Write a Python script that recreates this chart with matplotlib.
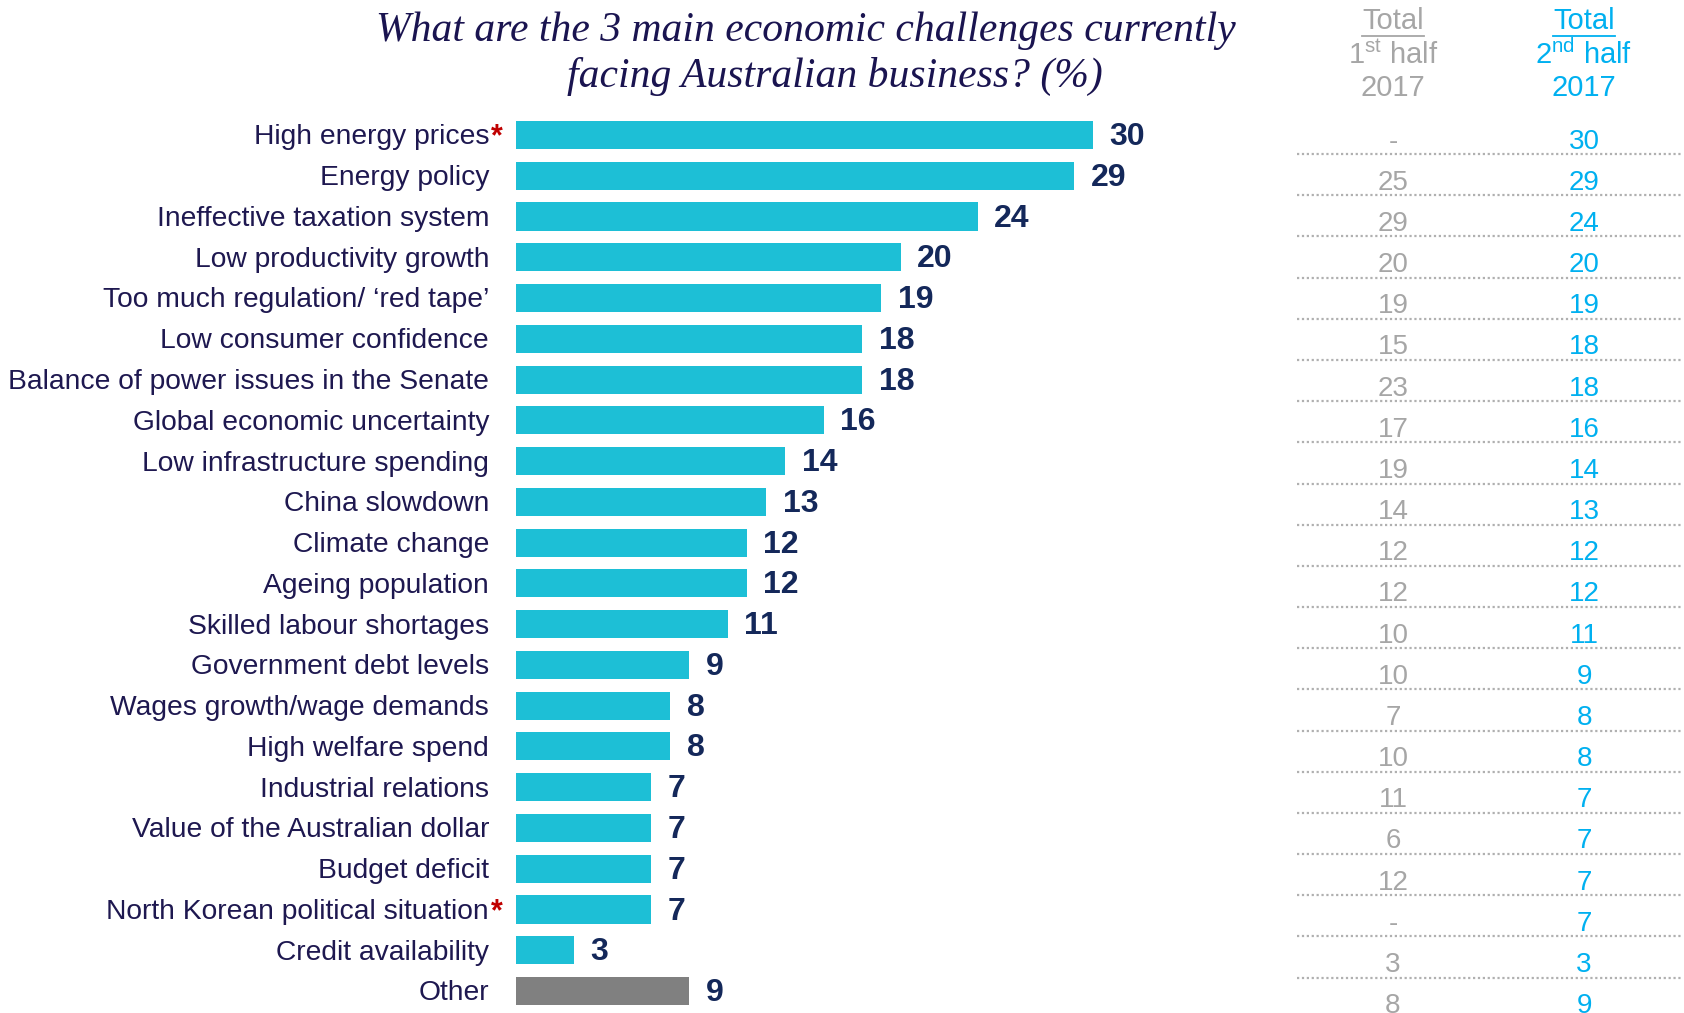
import matplotlib
matplotlib.use("Agg")
import matplotlib.pyplot as plt
import matplotlib.transforms as mtransforms
from matplotlib.lines import Line2D

plt.rcParams['font.family'] = ['Liberation Sans', 'DejaVu Sans']
plt.rcParams['mathtext.fontset'] = 'custom'
plt.rcParams['mathtext.rm'] = 'Liberation Sans'

# survey data
categories = [
    "High energy prices", "Energy policy", "Ineffective taxation system",
    "Low productivity growth", "Too much regulation/ \u2018red tape\u2019",
    "Low consumer confidence", "Balance of power issues in the Senate",
    "Global economic uncertainty", "Low infrastructure spending",
    "China slowdown", "Climate change", "Ageing population",
    "Skilled labour shortages", "Government debt levels",
    "Wages growth/wage demands", "High welfare spend",
    "Industrial relations", "Value of the Australian dollar",
    "Budget deficit", "North Korean political situation",
    "Credit availability", "Other",
]
values_h2 = [30, 29, 24, 20, 19, 18, 18, 16, 14, 13, 12, 12, 11, 9, 8, 8, 7, 7, 7, 7, 3, 9]
values_h1 = ["-", 25, 29, 20, 19, 15, 23, 17, 19, 14, 12, 12, 10, 10, 7, 10, 11, 6, 12, "-", 3, 8]
new_items = ["High energy prices", "North Korean political situation"]

W, H = 1684, 1013
fig = plt.figure(figsize=(W / 100, H / 100), dpi=100)

NAVY = "#1e1850"
VAL = "#14285a"
CYAN = "#1dbfd6"
GREY_BAR = "#808080"
GREY_TXT = "#a6a6a6"
BLUE_TXT = "#00b0f0"

# bar axes: left edge at the bar origin, rows ~40.8 px apart
ax_left, ax_top = 516, 110
ax = fig.add_axes([ax_left / W, 0, (W - ax_left) / W, (H - ax_top) / H])
ppu = 577 / 30
ax.set_xlim(0, (W - ax_left) / ppu)
row = 40.76
ax.set_ylim(21 + (H - 991) / row, -(135 - ax_top) / row)
ax.axis("off")

ypos = list(range(len(categories)))
colors = [CYAN] * (len(categories) - 1) + [GREY_BAR]
ax.barh(ypos, values_h2, height=0.69, color=colors)

for y, v in zip(ypos, values_h2):
    ax.annotate(str(v), (v, y + 0.05), xytext=(12, 0), textcoords="offset points",
                ha="left", va="center", fontsize=23, fontweight="bold", color=VAL)

tr = mtransforms.blended_transform_factory(fig.transFigure, ax.transData)

for y, c in zip(ypos, categories):
    ax.text(489 / W, y + 0.06, c, transform=tr, ha="right", va="center",
            fontsize=20.3, color=NAVY)
    if c in new_items:
        ax.text(491 / W, y + 0.06, "*", transform=tr, ha="left", va="center",
                fontsize=22, fontweight="bold", color="#c00000")

# comparison table on the right
col1, col2 = 1393 / W, 1584 / W
for y, a, b in zip(ypos, values_h1, values_h2):
    ty = y * 1.01 + 0.16
    ax.text(col1, ty, str(a), transform=tr, ha="center", va="center",
            fontsize=20, color=GREY_TXT)
    ax.text(col2, ty, str(b), transform=tr, ha="center", va="center",
            fontsize=20, color=BLUE_TXT)
    if y < len(ypos) - 1:
        ly = y * 1.01 + 0.47
        ax.add_line(Line2D([1297 / W, 1681 / W], [ly, ly], transform=tr,
                           color="#b0b0b0", lw=1.6, ls=(0, (1, 1.2)),
                           clip_on=False))

# table headers
for cx, col, sup, num in [(col1, GREY_TXT, "st", "1"), (col2, BLUE_TXT, "nd", "2")]:
    fig.text(cx, 1 - 21 / H, "Total", ha="center", va="center", fontsize=21, color=col)
    fig.add_artist(Line2D([cx - 31 / W, cx + 31 / W], [1 - 36 / H, 1 - 36 / H],
                          transform=fig.transFigure, color=col, lw=1.3))
    fig.text(cx, 1 - 55 / H, num + r"$^{\mathrm{" + sup + "}}$ half", ha="center",
             va="center", fontsize=21, color=col)
    fig.text(cx, 1 - 88 / H, "2017", ha="center", va="center", fontsize=21, color=col)

# title
title_font = dict(family="Liberation Serif", style="italic", fontsize=30, color="#1a1450")
fig.text(806 / W, 1 - 31 / H, "What are the 3 main economic challenges currently",
         ha="center", va="center", **title_font)
fig.text(835 / W, 1 - 76 / H, "facing Australian business? (%)",
         ha="center", va="center", **title_font)

fig.savefig("out.png", dpi=100)
